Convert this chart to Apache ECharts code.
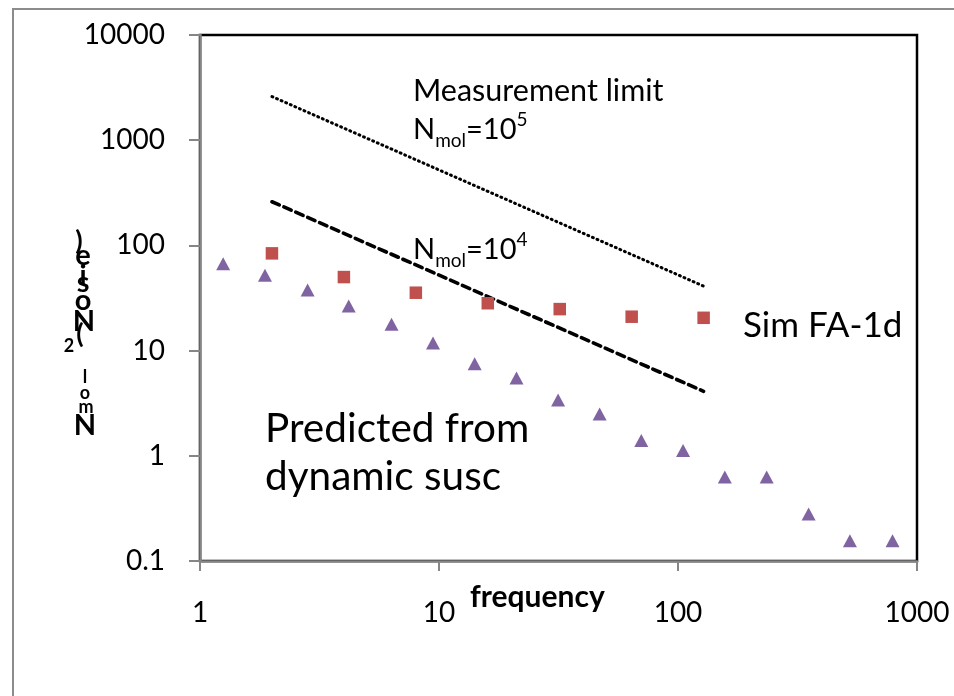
<!DOCTYPE html>
<html>
<head>
<meta charset="utf-8">
<script src="https://cdn.jsdelivr.net/npm/echarts@6/dist/echarts.min.js"></script>
<style>html,body{margin:0;padding:0;background:#fff;}#c{width:954px;height:696px;}</style>
</head>
<body>
<div id="c"></div>
<script>
// Data
const predFreq = [1.25, 1.87, 2.82, 4.19, 6.33, 9.44, 14.1, 21.1, 31.5, 47.0, 70.2, 105, 157, 235, 352, 524, 790];
const predVal  = [67, 52, 37.7, 26.5, 17.8, 11.8, 7.5, 5.5, 3.4, 2.5, 1.4, 1.12, 0.63, 0.63, 0.28, 0.156, 0.156];
const simFreq  = [2, 4, 8, 16, 32, 64, 128];
const simVal   = [84, 50, 35.5, 28.2, 24.8, 21, 20.5];
const limitFreq = [2, 128];
const limitN5   = [2600, 41];
const limitN4   = [260, 4.1];
const xRange = [1, 1000];
const yRange = [0.1, 10000];

const zip = (a, b) => a.map((v, i) => [v, b[i]]);
const FONT = 'Lato';
const fmt = v => String(Number(Number(v).toPrecision(6)));

const chart = echarts.init(document.getElementById('c'), null, {renderer: 'canvas'});

const yTitleChars = [
  {t: ')', x: 79, y: 241, s: 27},
  {t: 'e', x: 83, y: 256, s: 29},
  {t: 'i', x: 83, y: 276, s: 28},
  {t: 's', x: 83, y: 283, s: 29},
  {t: 'o', x: 83, y: 301, s: 29},
  {t: 'N', x: 84, y: 322, s: 29},
  {t: '(', x: 80, y: 334, s: 27},
  {t: '2', x: 69, y: 346, s: 18},
  {t: 'l', x: 85, y: 377, s: 18},
  {t: 'o', x: 85, y: 393, s: 18},
  {t: 'm', x: 86, y: 407, s: 18},
  {t: 'N', x: 85, y: 426, s: 29}
];

const richStyle = {
  b: {fontSize: 29, fontFamily: FONT, lineHeight: 40, verticalAlign: 'middle', fill: '#000'},
  sub: {fontSize: 19, fontFamily: FONT, lineHeight: 18, verticalAlign: 'bottom', fill: '#000'},
  sup: {fontSize: 19, fontFamily: FONT, lineHeight: 32, verticalAlign: 'top', fill: '#000'}
};

const graphics = [
  {type: 'rect', shape: {x: 13, y: 9, width: 1200, height: 1200}, style: {fill: 'none', stroke: '#8c8c8c', lineWidth: 2}, silent: true, z: -10},
  {type: 'text', x: 413, y: 91, style: {text: 'Measurement limit', font: '30.5px ' + FONT, fill: '#000', textVerticalAlign: 'middle'}},
  {type: 'text', x: 413, y: 130, style: {text: '{b|N}{sub|mol}{b|=10}{sup|5}', fill: '#000', textVerticalAlign: 'middle', rich: richStyle}},
  {type: 'text', x: 413, y: 250, style: {text: '{b|N}{sub|mol}{b|=10}{sup|4}', fill: '#000', textVerticalAlign: 'middle', rich: richStyle}},
  {type: 'text', x: 743, y: 326, style: {text: 'Sim FA-1d', font: '35px ' + FONT, fill: '#000', textVerticalAlign: 'middle'}},
  {type: 'text', x: 265, y: 453, style: {text: 'Predicted from\ndynamic susc', font: '40.5px ' + FONT, lineHeight: 48, fill: '#000', textVerticalAlign: 'middle'}},
  {type: 'text', x: 470, y: 597, style: {text: 'frequency', font: 'bold 30px ' + FONT, fill: '#000', textVerticalAlign: 'middle'}}
].concat(yTitleChars.map(c => ({
  type: 'text', x: c.x, y: c.y,
  style: {text: c.t, font: 'bold ' + c.s + 'px ' + FONT, fill: '#000', textAlign: 'center', textVerticalAlign: 'middle'}
})));

chart.setOption({
  animation: false,
  backgroundColor: '#fff',
  grid: {left: 200, top: 35, right: 37, bottom: 135, show: true, borderColor: '#000', borderWidth: 2.5, backgroundColor: 'transparent'},
  xAxis: {
    type: 'log', logBase: 10, min: xRange[0], max: xRange[1],
    axisLine: {show: true, lineStyle: {color: '#868686', width: 2.5}},
    axisTick: {show: true, inside: false, length: 10, lineStyle: {color: '#868686', width: 2}},
    minorTick: {show: false},
    splitLine: {show: false},
    axisLabel: {fontFamily: FONT, fontSize: 28, color: '#000', margin: 38, lineHeight: 28, formatter: fmt}
  },
  yAxis: {
    type: 'log', logBase: 10, min: yRange[0], max: yRange[1],
    axisLine: {show: true, lineStyle: {color: '#868686', width: 2.5}},
    axisTick: {show: true, inside: false, length: 11, lineStyle: {color: '#868686', width: 2}},
    splitLine: {show: false},
    axisLabel: {fontFamily: FONT, fontSize: 28, color: '#000', margin: 35, formatter: fmt}
  },
  series: [
    {
      name: 'Measurement limit Nmol=10^5', type: 'line', data: zip(limitFreq, limitN5),
      showSymbol: false, symbol: 'none',
      lineStyle: {color: '#000', width: 3, type: [1, 4], cap: 'round'}, z: 3
    },
    {
      name: 'Nmol=10^4', type: 'line', data: zip(limitFreq, limitN4),
      showSymbol: false, symbol: 'none',
      lineStyle: {color: '#000', width: 3.6, type: [8, 5], cap: 'round'}, z: 3
    },
    {
      name: 'Sim FA-1d', type: 'scatter', data: zip(simFreq, simVal),
      symbol: 'rect', symbolSize: 12.5, itemStyle: {color: '#C0504D', opacity: 1}, z: 4
    },
    {
      name: 'Predicted from dynamic susc', type: 'scatter', data: zip(predFreq, predVal),
      symbol: 'triangle', symbolSize: [14, 13], itemStyle: {color: '#8064A2', opacity: 1}, z: 4
    }
  ],
  graphic: graphics
});
</script>
</body>
</html>
